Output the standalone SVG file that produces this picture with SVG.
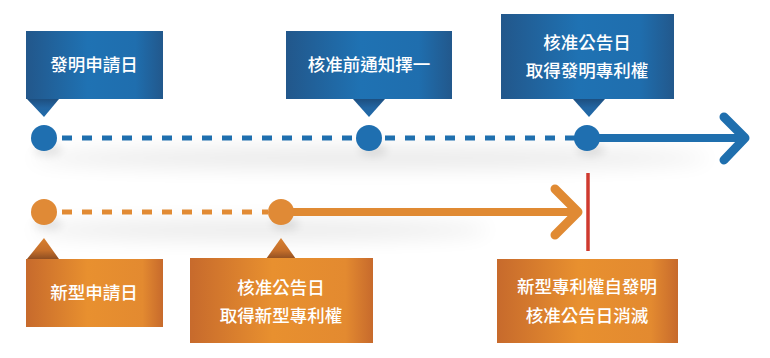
<svg xmlns="http://www.w3.org/2000/svg" width="770" height="358" viewBox="0 0 770 358">
  <defs>
    <linearGradient id="gBlue" x1="0" y1="0" x2="1" y2="0">
      <stop offset="0" stop-color="#22578b"/>
      <stop offset="0.45" stop-color="#1f72b3"/>
      <stop offset="0.8" stop-color="#1f6eae"/>
      <stop offset="1" stop-color="#22588c"/>
    </linearGradient>
    <linearGradient id="gBlueTri" x1="0" y1="0" x2="0" y2="1">
      <stop offset="0" stop-color="#1d4f80"/>
      <stop offset="0.5" stop-color="#2365a2"/>
      <stop offset="1" stop-color="#1f6aa9"/>
    </linearGradient>
    <linearGradient id="gOrange" x1="0" y1="0" x2="1" y2="0">
      <stop offset="0" stop-color="#c76a2c"/>
      <stop offset="0.45" stop-color="#e8902f"/>
      <stop offset="0.85" stop-color="#e38a30"/>
      <stop offset="1" stop-color="#c76a2c"/>
    </linearGradient>
    <linearGradient id="gOrangeTri" x1="0" y1="0" x2="0" y2="1">
      <stop offset="0" stop-color="#d88030"/>
      <stop offset="0.6" stop-color="#c46e2a"/>
      <stop offset="1" stop-color="#8e4e22"/>
    </linearGradient>
    <filter id="blur" x="-20%" y="-300%" width="140%" height="700%">
      <feGaussianBlur stdDeviation="10"/>
    </filter>
    <filter id="blurS" x="-100%" y="-100%" width="300%" height="300%">
      <feGaussianBlur stdDeviation="4"/>
    </filter>
  </defs>
  <style>
    .lbl { font-family: "Noto Sans CJK TC", "Noto Sans CJK SC", sans-serif; font-size: 17.5px; fill: #ffffff; text-anchor: middle; font-weight: 500; }
    .dashB { stroke: #1f6fae; stroke-width: 5; stroke-dasharray: 10 10; fill: none; }
    .dashO { stroke: #e28b34; stroke-width: 5; stroke-dasharray: 10 10; fill: none; }
    .solidB { stroke: #1f6fae; stroke-width: 8; fill: none; }
    .headB { stroke: #1f6fae; stroke-width: 9; fill: none; stroke-linecap: round; stroke-linejoin: round; }
    .solidO { stroke: #e08a33; stroke-width: 8; fill: none; }
    .headO { stroke: #e08a33; stroke-width: 9; fill: none; stroke-linecap: round; stroke-linejoin: round; }
    .dotB { fill: #1f6fb0; }
    .dotO { fill: #e08a36; }
    .shadow { fill: #000000; opacity: 0.09; }
  </style>

  <!-- soft shadows -->
  <g id="shadows">
    <ellipse class="shadow" cx="370" cy="158" rx="340" ry="10" filter="url(#blur)"/>
    <ellipse class="shadow" cx="260" cy="230" rx="230" ry="9" filter="url(#blur)"/>
    <ellipse class="shadow" cx="48" cy="150" rx="14" ry="6" filter="url(#blurS)"/>
    <ellipse class="shadow" cx="373" cy="150" rx="14" ry="6" filter="url(#blurS)"/>
    <ellipse class="shadow" cx="591" cy="150" rx="14" ry="6" filter="url(#blurS)"/>
    <ellipse class="shadow" cx="48" cy="224" rx="14" ry="6" filter="url(#blurS)"/>
    <ellipse class="shadow" cx="285" cy="224" rx="14" ry="6" filter="url(#blurS)"/>
  </g>

  <g id="connectors">
    <line class="dashB" x1="62" y1="138" x2="355" y2="138"/>
    <line class="dashB" x1="385" y1="138" x2="575" y2="138"/>
    <line class="solidB" x1="587" y1="138" x2="744" y2="138"/>
    <polyline class="headB" points="724,117 745,138 724,160"/>
    <line class="dashO" x1="62" y1="212" x2="268" y2="212"/>
    <line class="solidO" x1="281" y1="212" x2="578" y2="212"/>
    <polyline class="headO" points="555,189 578,212 555,235"/>
    <line x1="588" y1="173" x2="588" y2="251" stroke="#cf3a2f" stroke-width="3.5"/>
  </g>

  <g id="n-invention-filing">
    <rect x="26" y="31" width="137" height="68" fill="url(#gBlue)"/>
    <polygon points="27,99 59,99 44,117" fill="url(#gBlueTri)"/>
    <circle class="dotB" cx="44" cy="138" r="13"/>
    <text class="lbl" x="94" y="71">發明申請日</text>
  </g>

  <g id="n-pre-approval">
    <rect x="286" y="31" width="166" height="68" fill="url(#gBlue)"/>
    <polygon points="353,99 385,99 369,117" fill="url(#gBlueTri)"/>
    <circle class="dotB" cx="369" cy="138" r="13"/>
    <text class="lbl" x="369" y="71">核准前通知擇一</text>
  </g>

  <g id="n-invention-grant">
    <rect x="501" y="14" width="173" height="85" fill="url(#gBlue)"/>
    <polygon points="573,99 605,99 589,117" fill="url(#gBlueTri)"/>
    <circle class="dotB" cx="587" cy="138" r="13"/>
    <text class="lbl" x="587" y="49">核准公告日</text>
    <text class="lbl" x="587" y="77">取得發明專利權</text>
  </g>

  <g id="n-utility-filing">
    <circle class="dotO" cx="44" cy="212" r="13"/>
    <polygon points="27,259 59,259 44,238" fill="url(#gOrangeTri)"/>
    <rect x="26" y="259" width="137" height="68" fill="url(#gOrange)"/>
    <text class="lbl" x="94" y="299">新型申請日</text>
  </g>

  <g id="n-utility-grant">
    <circle class="dotO" cx="281" cy="212" r="13"/>
    <polygon points="266,259 296,259 281,238" fill="url(#gOrangeTri)"/>
    <rect x="190" y="258" width="183" height="85" fill="url(#gOrange)"/>
    <text class="lbl" x="281" y="294">核准公告日</text>
    <text class="lbl" x="281" y="322">取得新型專利權</text>
  </g>

  <g id="n-utility-extinct">
    <rect x="497" y="259" width="181" height="84" fill="url(#gOrange)"/>
    <text class="lbl" x="587" y="293">新型專利權自發明</text>
    <text class="lbl" x="587" y="322">核准公告日消滅</text>
  </g>
</svg>
